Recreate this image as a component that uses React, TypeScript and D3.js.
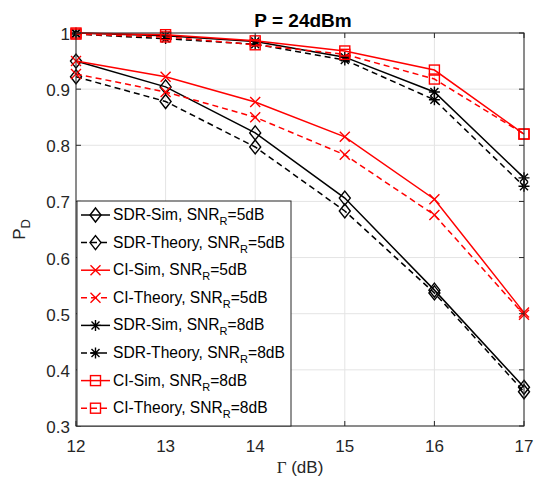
import React from "react";
import * as d3 from "d3";

const gammaDb = [12, 13, 14, 15, 16, 17];
const sdrSim5 = [0.95, 0.904, 0.822, 0.706, 0.542, 0.369];
const sdrTheory5 = [0.922, 0.878, 0.797, 0.683, 0.537, 0.361];
const ciSim5 = [0.95, 0.922, 0.877, 0.815, 0.704, 0.502];
const ciTheory5 = [0.927, 0.895, 0.85, 0.783, 0.676, 0.498];
const sdrSim8 = [1.0, 0.995, 0.985, 0.957, 0.895, 0.742];
const sdrTheory8 = [0.998, 0.99, 0.98, 0.952, 0.881, 0.727];
const ciSim8 = [1.0, 0.997, 0.986, 0.968, 0.934, 0.82];
const ciTheory8 = [0.998, 0.993, 0.979, 0.962, 0.918, 0.82];
const xTicks = [12, 13, 14, 15, 16, 17];
const yTicks = [0.3, 0.4, 0.5, 0.6, 0.7, 0.8, 0.9, 1];

type Marker = "diamond" | "x" | "star" | "square";
const series: { name: string; values: number[]; color: string; dashed: boolean; marker: Marker }[] = [
  { name: "SDR-Sim", values: sdrSim5, color: "#000", dashed: false, marker: "diamond" },
  { name: "SDR-Theory", values: sdrTheory5, color: "#000", dashed: true, marker: "diamond" },
  { name: "CI-Sim", values: ciSim5, color: "#ff0000", dashed: false, marker: "x" },
  { name: "CI-Theory", values: ciTheory5, color: "#ff0000", dashed: true, marker: "x" },
  { name: "SDR-Sim", values: sdrSim8, color: "#000", dashed: false, marker: "star" },
  { name: "SDR-Theory", values: sdrTheory8, color: "#000", dashed: true, marker: "star" },
  { name: "CI-Sim", values: ciSim8, color: "#ff0000", dashed: false, marker: "square" },
  { name: "CI-Theory", values: ciTheory8, color: "#ff0000", dashed: true, marker: "square" },
];
const snrLabels = ["5dB", "5dB", "5dB", "5dB", "8dB", "8dB", "8dB", "8dB"];

const L = 76, R = 524, T = 33, B = 426;
const font = "Arial, 'Liberation Sans', Helvetica, sans-serif";

function MarkerShape({ type, x, y, color }: { type: Marker; x: number; y: number; color: string }) {
  const sw = 1.4;
  if (type === "diamond") {
    const w = 5.5, h = 7;
    return <path d={`M${x},${y - h}L${x + w},${y}L${x},${y + h}L${x - w},${y}Z`} fill="none" stroke={color} strokeWidth={sw} />;
  }
  if (type === "x") {
    const s = 5;
    return <path d={`M${x - s},${y - s}L${x + s},${y + s}M${x - s},${y + s}L${x + s},${y - s}`} stroke={color} strokeWidth={sw} />;
  }
  if (type === "star") {
    const s = 5.5, d = 4;
    return (
      <path
        d={`M${x},${y - s}L${x},${y + s}M${x - s},${y}L${x + s},${y}M${x - d},${y - d}L${x + d},${y + d}M${x - d},${y + d}L${x + d},${y - d}`}
        stroke={color}
        strokeWidth={sw}
      />
    );
  }
  const s = 5;
  return <rect x={x - s} y={y - s} width={2 * s} height={2 * s} fill="none" stroke={color} strokeWidth={sw} />;
}

export default function App() {
  const x = d3.scaleLinear().domain([12, 17]).range([L, R]);
  const y = d3.scaleLinear().domain([0.3, 1]).range([B, T]);
  const line = d3
    .line<number>()
    .x((_, i) => x(gammaDb[i]))
    .y((v) => y(v));

  const legX = 77, legY = 201, legW = 214, legH = 225;
  const rowH = 27.6;

  return (
    <svg width={534} height={483} style={{ position: "absolute", left: 0, top: 0, background: "#fff" }} fontFamily={font}>
      <rect x={0} y={0} width={534} height={483} fill="#fff" />
      {/* grid */}
      {xTicks.map((t) => (
        <line key={"gx" + t} x1={x(t)} x2={x(t)} y1={T} y2={B} stroke="#e4e4e4" strokeWidth={1} />
      ))}
      {yTicks.map((t) => (
        <line key={"gy" + t} x1={L} x2={R} y1={y(t)} y2={y(t)} stroke="#e4e4e4" strokeWidth={1} />
      ))}
      {/* series */}
      {series.map((s, i) => (
        <g key={"s" + i}>
          <path d={line(s.values) || ""} fill="none" stroke={s.color} strokeWidth={1.5} strokeDasharray={s.dashed ? "6,4" : undefined} />
          {s.values.map((v, j) => (
            <MarkerShape key={j} type={s.marker} x={x(gammaDb[j])} y={y(v)} color={s.color} />
          ))}
        </g>
      ))}
      {/* axes box */}
      <rect x={L} y={T} width={R - L} height={B - T} fill="none" stroke="#262626" strokeWidth={1} />
      {xTicks.map((t) => (
        <g key={"tx" + t}>
          <line x1={x(t)} x2={x(t)} y1={B} y2={B - 5} stroke="#262626" />
          <line x1={x(t)} x2={x(t)} y1={T} y2={T + 5} stroke="#262626" />
          <text x={x(t)} y={B + 26} textAnchor="middle" fontSize={17} fill="#262626">
            {t}
          </text>
        </g>
      ))}
      {yTicks.map((t) => (
        <g key={"ty" + t}>
          <line x1={L} x2={L + 5} y1={y(t)} y2={y(t)} stroke="#262626" />
          <line x1={R} x2={R - 5} y1={y(t)} y2={y(t)} stroke="#262626" />
          <text x={L - 6} y={y(t) + 7} textAnchor="end" fontSize={17} fill="#262626">
            {d3.format("~g")(t)}
          </text>
        </g>
      ))}
      {/* title */}
      <text x={303} y={27} textAnchor="middle" fontSize={19} fontWeight="bold" fill="#000">
        P = 24dBm
      </text>
      {/* x label */}
      <text x={300} y={473} textAnchor="middle" fontSize={17} fill="#262626">
        <tspan fontFamily="'Liberation Serif', 'Times New Roman', serif">Γ</tspan> (dB)
      </text>
      {/* y label */}
      <text transform={`translate(25,${(T + B) / 2}) rotate(-90)`} textAnchor="middle" fontSize={17} fill="#262626">
        P<tspan fontSize={13} dy={5}>D</tspan>
      </text>
      {/* legend */}
      <rect x={legX} y={legY} width={legW} height={legH} fill="#fff" stroke="#262626" strokeWidth={1} />
      {series.map((s, i) => {
        const cy = legY + 14 + i * rowH;
        return (
          <g key={"l" + i}>
            <line x1={81} x2={110} y1={cy} y2={cy} stroke={s.color} strokeWidth={1.5} strokeDasharray={s.dashed ? "6,4" : undefined} />
            <MarkerShape type={s.marker} x={95.5} y={cy} color={s.color} />
            <text x={113} y={cy + 5} fontSize={15.6} fill="#000">
              {s.name}, SNR<tspan fontSize={11} dy={5}>R</tspan>
              <tspan dy={-5}>={snrLabels[i]}</tspan>
            </text>
          </g>
        );
      })}
    </svg>
  );
}
